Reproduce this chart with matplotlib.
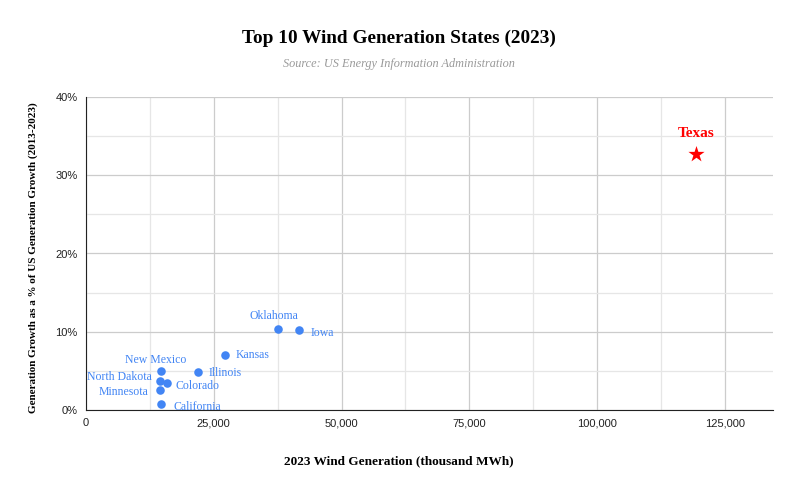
import matplotlib.pyplot as plt
from matplotlib.ticker import FuncFormatter, MultipleLocator

states = ['Texas', 'Iowa', 'Oklahoma', 'Kansas', 'Illinois', 'New Mexico',
          'North Dakota', 'Colorado', 'Minnesota', 'California']
generation = [119300, 41700, 37600, 27200, 21900, 14700, 14500, 15900, 14500, 14700]
growth_pct = [32.7, 10.2, 10.35, 7.0, 4.86, 4.98, 3.7, 3.45, 2.56, 0.77]

# label placement (offset in pixels, horizontal alignment)
label_pos = {
    'Iowa': ((11, -3), 'left'),
    'Oklahoma': ((-4, 13), 'center'),
    'Kansas': ((11, 0), 'left'),
    'Illinois': ((11, -1), 'left'),
    'New Mexico': ((-5, 11), 'center'),
    'North Dakota': ((-8, 4), 'right'),
    'Colorado': ((8, -3), 'left'),
    'Minnesota': ((-12, -2), 'right'),
    'California': ((12, -3), 'left'),
}

blue = '#4285f4'
serif = 'Liberation Serif'

fig = plt.figure(figsize=(7.98, 4.94), dpi=100)
ax = fig.add_axes([86/798, 1 - 410/494, (773-86)/798, (410-97)/494])

ax.scatter(generation[1:], growth_pct[1:], s=38, color=blue, zorder=3, linewidths=0)
ax.scatter(generation[:1], growth_pct[:1], s=150, color='#ff0000', marker='*', zorder=3, linewidths=0)

for name, x, y in zip(states[1:], generation[1:], growth_pct[1:]):
    off, ha = label_pos[name]
    ax.annotate(name, (x, y), xytext=off, textcoords='offset pixels', ha=ha, va='center',
                fontsize=8.5, color=blue, family=serif)
ax.annotate('Texas', (generation[0], growth_pct[0]), xytext=(0, 21), textcoords='offset pixels',
            ha='center', va='center', fontsize=11, color='#ff0000', family=serif, fontweight='bold')

ax.set_xlim(0, 134400)
ax.set_ylim(0, 40)
ax.xaxis.set_major_locator(MultipleLocator(25000))
ax.xaxis.set_minor_locator(MultipleLocator(12500))
ax.yaxis.set_major_locator(MultipleLocator(10))
ax.yaxis.set_minor_locator(MultipleLocator(5))
ax.xaxis.set_major_formatter(FuncFormatter(lambda v, p: f'{int(v):,}'))
ax.yaxis.set_major_formatter(FuncFormatter(lambda v, p: f'{int(v)}%'))
ax.grid(which='major', color='#cccccc', linewidth=0.9)
ax.grid(which='minor', color='#e6e6e6', linewidth=0.9)
ax.set_axisbelow(True)
ax.tick_params(which='both', length=0, labelsize=8, pad=6, labelcolor='#222222')
for lab in ax.get_xticklabels() + ax.get_yticklabels():
    lab.set_family('Liberation Sans')
ax.spines['top'].set_visible(False)
ax.spines['right'].set_visible(False)
ax.spines['left'].set_color('#222222')
ax.spines['bottom'].set_color('#222222')

fig.text(0.5, 1 - 38/494, 'Top 10 Wind Generation States (2023)', ha='center', va='center',
         fontsize=13.9, fontweight='bold', family=serif)
fig.text(0.5, 1 - 64/494, 'Source: US Energy Information Administration', ha='center', va='center',
         fontsize=8.8, style='italic', color='#999999', family=serif)
fig.text(0.5, 1 - 461/494, '2023 Wind Generation (thousand MWh)', ha='center', va='center',
         fontsize=9.5, fontweight='bold', family=serif)
fig.text(33/798, 1 - 258/494, 'Generation Growth as a % of US Generation Growth (2013-2023)',
         ha='center', va='center', rotation=90, fontsize=8, fontweight='bold', family=serif)

fig.savefig('out.png', dpi=100)
